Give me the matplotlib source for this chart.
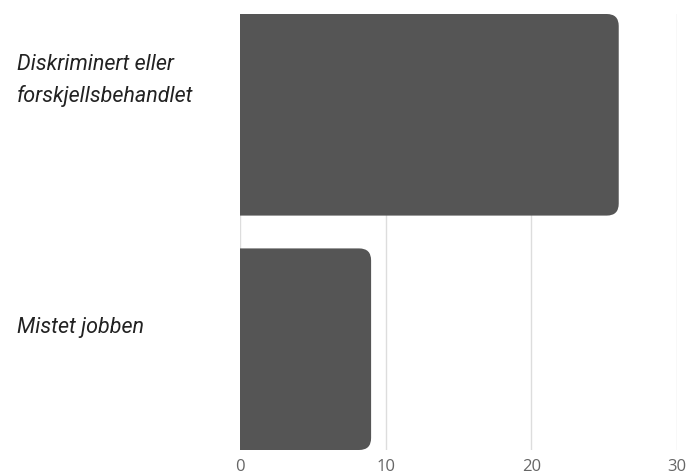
import matplotlib.pyplot as plt
from matplotlib.patches import FancyBboxPatch
import matplotlib.transforms as mtransforms

# data
categories = ['Diskriminert eller\nforskjellsbehandlet', 'Mistet jobben']
values = [26, 9]
ticks = [0, 10, 20, 30]

W, H, DPI = 693, 477, 100
fig = plt.figure(figsize=(W / DPI, H / DPI), dpi=DPI)
ax = fig.add_axes([240 / W, 26 / H, 437 / W, 436 / H])

barHeight = 0.86
ypos = list(range(len(categories)))
bars = ax.barh(ypos, values, height=barHeight, color='#555555', alpha=0)
ax.set_xlim(0, 30)
ax.set_ylim(len(categories) - 1 + barHeight / 2, -barHeight / 2)

# pixel size of one data unit, used to keep the corners round
bb = ax.get_window_extent()
pxX = bb.width / 30
pxY = bb.height / (len(categories) - 1 + barHeight)
radius = 12  # px
for rect in bars:
    x0, y0 = rect.get_x(), rect.get_y()
    w, h = rect.get_width(), rect.get_height()
    # start left of zero so only the right corners look rounded (clipped by axes)
    patch = FancyBboxPatch((x0 - 2, y0), w + 2, h,
                           boxstyle='round,pad=0,rounding_size=%f' % (radius / pxX),
                           mutation_aspect=(radius / pxY) / (radius / pxX),
                           facecolor='#555555', edgecolor='none', zorder=2)
    patch.set_clip_path(ax.patch)
    ax.add_patch(patch)

ax.set_xticks(ticks)
ax.set_xticklabels([str(t) for t in ticks], fontfamily='Open Sans', fontsize=12, color='#666666')
ax.tick_params(axis='x', length=0, pad=6)
ax.set_yticks([])
ax.grid(axis='x', color='#dddddd', linewidth=1, zorder=0)
ax.set_axisbelow(True)
for s in ax.spines.values():
    s.set_visible(False)

# category labels, left aligned at figure edge and sitting a bit above bar centre
offsets = [35, 23]  # px upward
for y, lab, off in zip(ypos, categories, offsets):
    tr = mtransforms.blended_transform_factory(fig.transFigure, ax.transData)
    tr = tr + mtransforms.ScaledTranslation(0, off / DPI, fig.dpi_scale_trans)
    ax.text(17 / W, y, lab, transform=tr, ha='left', va='center',
            fontfamily='Roboto', fontstyle='italic', fontsize=15.5,
            color='#222222', linespacing=1.6)

fig.savefig('out.png', dpi=DPI)
